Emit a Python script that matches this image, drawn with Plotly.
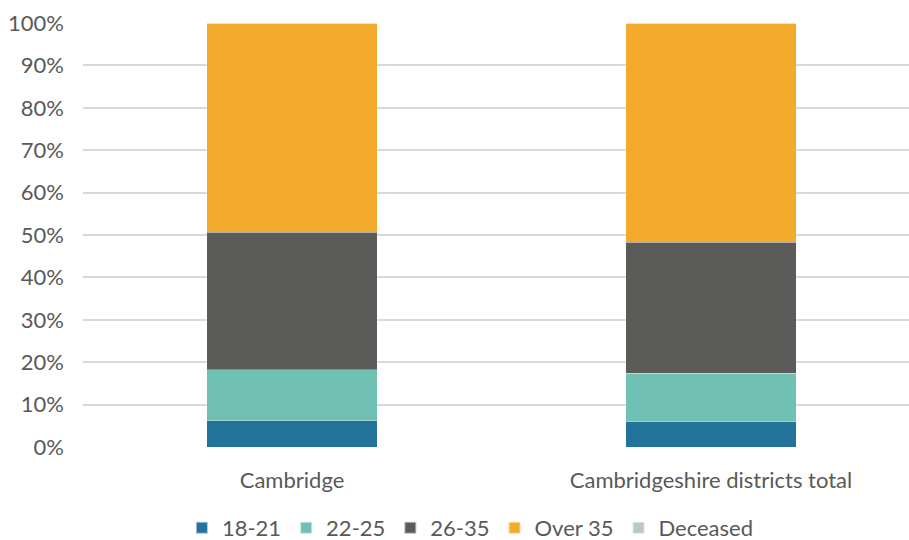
import plotly.graph_objects as go

categories = ["Cambridge", "Cambridgeshire districts total"]
series_names = ["18-21", "22-25", "26-35", "Over 35", "Deceased"]
v_18_21 = [0.062, 0.059]
v_22_25 = [0.120, 0.115]
v_26_35 = [0.325, 0.309]
v_over35 = [0.493, 0.515]
v_deceased = [0.000, 0.002]
colors = ["#22729a", "#70c1b3", "#5b5b59", "#f4ab2b", "#b9c7c9"]

values = [v_18_21, v_22_25, v_26_35, v_over35, v_deceased]

FONT = "Lato, Open Sans, sans-serif"
SIZE = 22
fig = go.Figure()
for name, vals, col in zip(series_names, values, colors):
    fig.add_trace(go.Bar(
        x=[0, 1], y=vals, name=name, width=0.406,
        marker=dict(color=col, line=dict(color="rgba(255,255,255,0.6)", width=0.5)),
    ))

fig.update_layout(
    barmode="stack",
    width=909, height=540,
    margin=dict(l=83, r=0, t=23, b=93, autoexpand=False),
    plot_bgcolor="white", paper_bgcolor="white",
    font=dict(family=FONT, size=SIZE, color="#595959"),
    xaxis=dict(range=[-0.4988, 1.4726], tickvals=[0, 1], ticktext=categories,
               showgrid=False, zeroline=False, showline=False, ticks="",
               ticklabelstandoff=18, automargin=False,
               tickfont=dict(family=FONT, size=SIZE, color="#595959")),
    yaxis=dict(range=[0, 1], tickvals=[i / 10 for i in range(11)],
               tickformat=".0%", showgrid=True, gridcolor="#d9d9d9", gridwidth=1.5,
               zeroline=False, ticks="", ticklabelstandoff=18, automargin=False,
               tickfont=dict(family=FONT, size=SIZE, color="#595959")),
    legend=dict(orientation="h", x=0.469, xanchor="center",
                yref="container", y=1 - 528 / 540, yanchor="middle",
                traceorder="normal", font=dict(family=FONT, size=SIZE, color="#595959"),
                itemwidth=30, itemsizing="constant"),
    showlegend=True,
)

fig.write_html("out.html", config={"displayModeBar": False},
               post_script="document.body.style.margin='0px';")
